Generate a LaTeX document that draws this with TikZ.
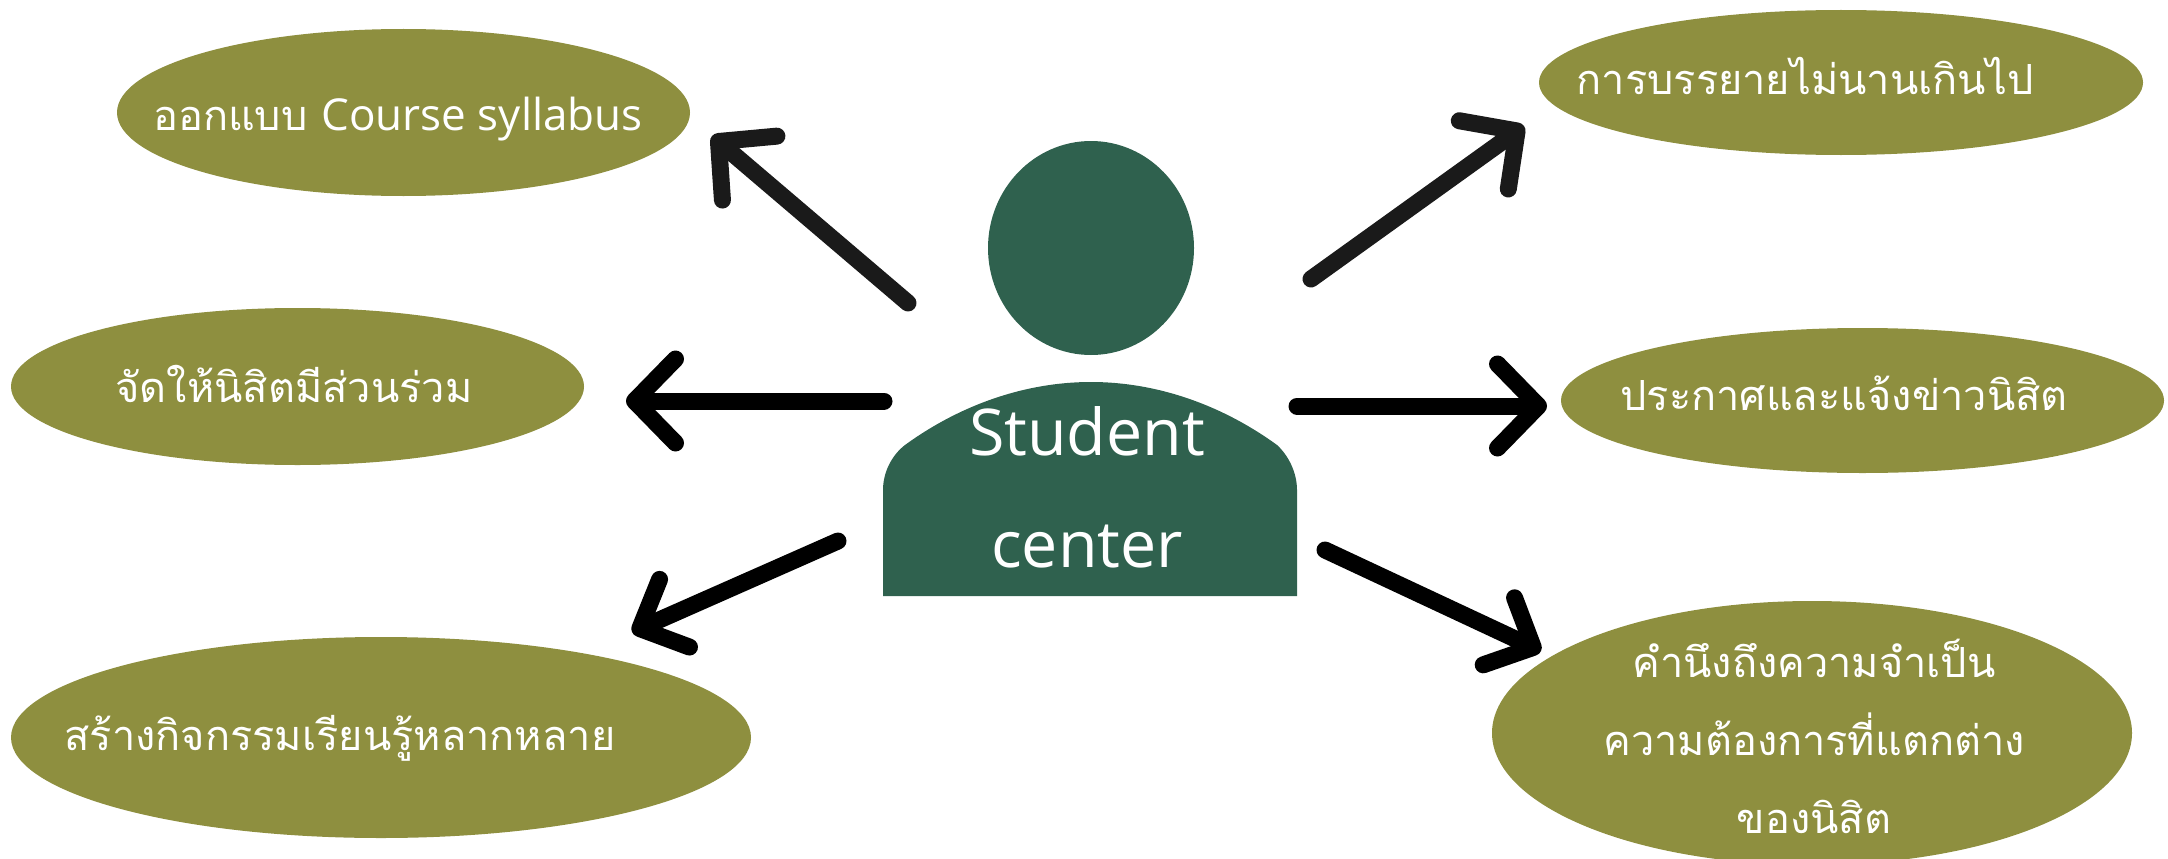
\documentclass[tikz,border=0pt]{standalone}
\usepackage{fontspec}
\usetikzlibrary{arrows.meta,shapes.geometric}
\newfontfamily\thaifont[Script=Thai]{Loma}
\setmainfont{Open Sans}
\definecolor{olive}{HTML}{8E8F3F}
\definecolor{forest}{HTML}{2F614E}
\definecolor{nearblack}{HTML}{1A1A1A}
\tikzset{
  x=1pt,y=-1pt,
  bubble/.style={ellipse,fill=olive,draw=none,inner sep=0pt},
  thaitext/.style={anchor=base,text=white,inner sep=0pt,font=\thaifont\fontsize{41.5}{48}\selectfont},
  persontext/.style={anchor=base,text=white,inner sep=0pt,font=\fontsize{64.5}{74}\selectfont},
  conn/.style={line width=17pt,line cap=round,line join=round,
    -{Straight Barb[length=41pt,width=84pt,line width=17pt,round]}},
  connsmall/.style={line width=17pt,line cap=round,line join=round,
    -{Straight Barb[length=38pt,width=74pt,line width=17pt,round]}},
}
\begin{document}
\begin{tikzpicture}
\useasboundingbox (0,0) rectangle (2168,859);
\begin{scope}
\clip (0,0) rectangle (2168,859);
\node[bubble,minimum width=573pt,minimum height=167pt] (e1) at (403.5,112.5) {};
\node[bubble,minimum width=573pt,minimum height=157pt] (e2) at (297.5,386.5) {};
\node[bubble,minimum width=740pt,minimum height=201pt] (e3) at (381,737.5) {};
\node[bubble,minimum width=604pt,minimum height=145pt] (e4) at (1841,82.5) {};
\node[bubble,minimum width=603pt,minimum height=145pt] (e5) at (1862.5,400.5) {};
\node[bubble,minimum width=640pt,minimum height=264pt] (e6) at (1812,733) {};
\end{scope}
\node[ellipse,fill=forest,minimum width=206pt,minimum height=214pt,inner sep=0pt] (head) at (1091,248) {};
\fill[forest] (883,596) -- (883,490) .. controls (883,472) and (892,455) .. (905,445)
  .. controls (960,405) and (1025,382) .. (1091,382)
  .. controls (1157,382) and (1222,405) .. (1277,445)
  .. controls (1288,455) and (1297,472) .. (1297,490) -- (1297,596) -- cycle;
\node[persontext] (st) at (1087,455) {Student};
\node[persontext] (ce) at (1087,567) {center};
\node[thaitext] (t1) at (398,130) {ออกแบบ {\fontspec{Open Sans}\fontsize{44}{50}\selectfont Course syllabus}};
\node[thaitext] (t2) at (294,402) {จัดให้นิสิตมีส่วนร่วม};
\node[thaitext] (t3) at (340,750) {สร้างกิจกรรมเรียนรู้หลากหลาย};
\node[thaitext] (t4) at (1805,95) {การบรรยายไม่นานเกินไป};
\node[thaitext] (t5) at (1844,410) {ประกาศและแจ้งข่าวนิสิต};
\node[thaitext] (t6a) at (1814,677) {คำนึงถึงความจำเป็น};
\node[thaitext] (t6b) at (1814,755) {ความต้องการที่แตกต่าง};
\node[thaitext] (t6c) at (1814,833) {ของนิสิต};
\coordinate (a1s) at (908,303); \coordinate (a1e) at (712,136);
\coordinate (a2s) at (884,401); \coordinate (a2e) at (626,401);
\coordinate (a3s) at (838,541); \coordinate (a3e) at (632,632);
\coordinate (a4s) at (1311,279); \coordinate (a4e) at (1524,126);
\coordinate (a5s) at (1297,406); \coordinate (a5e) at (1547,406);
\coordinate (a6s) at (1325,550); \coordinate (a6e) at (1541,651);
\draw[conn,nearblack] (a1s) -- (a1e);
\draw[conn,black] (a2s) -- (a2e);
\draw[connsmall,black] (a3s) -- (a3e);
\draw[conn,nearblack] (a4s) -- (a4e);
\draw[conn,black] (a5s) -- (a5e);
\draw[connsmall,black] (a6s) -- (a6e);
\end{tikzpicture}
\end{document}
